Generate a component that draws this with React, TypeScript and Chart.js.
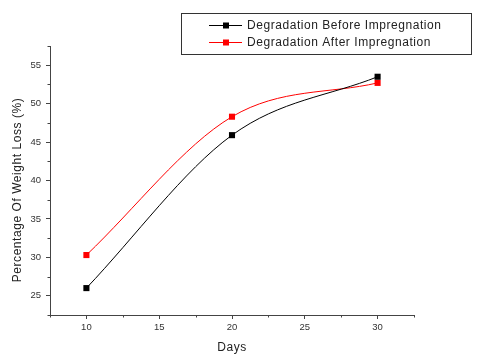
import React, { useEffect, useRef } from 'react';
import { Chart, registerables } from 'chart.js';

Chart.register(...registerables);

const days = [10, 20, 30];
const beforeImpregnation = [26.0, 45.9, 53.5];
const afterImpregnation = [30.3, 48.3, 52.7];
const seriesLabels = ['Degradation Before Impregnation', 'Degradation After Impregnation'];
const seriesColors = ['#000000', '#ff0000'];
const xMajorTicks = [10, 15, 20, 25, 30];
const xMinorTicks = [7.5, 12.5, 17.5, 22.5, 27.5, 32.5];
const yMajorTicks = [25, 30, 35, 40, 45, 50, 55];
const yMinorTicks = [22.5, 27.5, 32.5, 37.5, 42.5, 47.5, 52.5, 57.5];
const xTitle = 'Days';
const yTitle = 'Percentage Of Weight Loss (%)';

const FONT = '"Liberation Sans", Arial, sans-serif';
const AXIS = '#444444';
const TEXT = '#222222';

const overlayPlugin = {
  id: 'overlay',
  afterDraw(chart: any) {
    const ctx = chart.ctx as CanvasRenderingContext2D;
    const xs = chart.scales.x;
    const ys = chart.scales.y;
    ctx.save();
    // minor ticks
    ctx.strokeStyle = AXIS;
    ctx.lineWidth = 1;
    ctx.beginPath();
    xMinorTicks.forEach((v) => {
      const px = Math.round(xs.getPixelForValue(v)) + 0.5;
      ctx.moveTo(px, xs.top);
      ctx.lineTo(px, xs.top + 2.5);
    });
    yMinorTicks.forEach((v) => {
      const py = Math.round(ys.getPixelForValue(v)) + 0.5;
      ctx.moveTo(ys.right, py);
      ctx.lineTo(ys.right - 2.5, py);
    });
    ctx.stroke();

    // axis titles
    ctx.fillStyle = TEXT;
    ctx.font = '12px ' + FONT;
    (ctx as any).letterSpacing = '0.55px';
    ctx.textAlign = 'center';
    ctx.textBaseline = 'middle';
    const ca = chart.chartArea;
    ctx.fillText(xTitle, (ca.left + ca.right) / 2, 348);
    ctx.save();
    ctx.translate(17.5, (ca.top + ca.bottom) / 2 + 9.5);
    ctx.rotate(-Math.PI / 2);
    ctx.fillText(yTitle, 0, 0);
    ctx.restore();

    // legend box
    const bx = 181.5, by = 13.5, bw = 290, bh = 41;
    ctx.fillStyle = '#ffffff';
    ctx.fillRect(bx, by, bw, bh);
    ctx.strokeStyle = '#333333';
    ctx.lineWidth = 1;
    ctx.strokeRect(bx, by, bw, bh);
    const rows = [25, 42.3];
    seriesLabels.forEach((label, i) => {
      const y = rows[i];
      ctx.strokeStyle = seriesColors[i];
      ctx.beginPath();
      ctx.moveTo(209, Math.round(y) + 0.5);
      ctx.lineTo(242, Math.round(y) + 0.5);
      ctx.stroke();
      ctx.fillStyle = seriesColors[i];
      ctx.fillRect(223, Math.round(y) - 2.5, 6, 6);
      ctx.fillStyle = TEXT;
      ctx.textAlign = 'left';
      ctx.textBaseline = 'middle';
      ctx.fillText(label, 247, y + 0.5);
    });
    ctx.restore();
  },
};

export default function App() {
  const canvasRef = useRef<HTMLCanvasElement | null>(null);

  useEffect(() => {
    document.body.style.margin = '0';
    const canvas = canvasRef.current;
    if (!canvas) return;
    const chart = new Chart(canvas, {
      type: 'line',
      data: {
        datasets: [
          {
            label: seriesLabels[0],
            data: days.map((d, i) => ({ x: d, y: beforeImpregnation[i] })),
            borderColor: seriesColors[0],
            backgroundColor: seriesColors[0],
            borderWidth: 1,
            cubicInterpolationMode: 'monotone',
            pointStyle: 'rect',
            pointRadius: 4.3,
            pointBorderWidth: 0,
          },
          {
            label: seriesLabels[1],
            data: days.map((d, i) => ({ x: d, y: afterImpregnation[i] })),
            borderColor: seriesColors[1],
            backgroundColor: seriesColors[1],
            borderWidth: 1,
            cubicInterpolationMode: 'monotone',
            pointStyle: 'rect',
            pointRadius: 4.3,
            pointBorderWidth: 0,
          },
        ],
      },
      options: {
        responsive: false,
        animation: false,
        devicePixelRatio: 1,
        layout: { padding: { left: 0, right: 66, top: 46, bottom: 0 } },
        plugins: {
          legend: { display: false },
          tooltip: { enabled: false },
        },
        scales: {
          x: {
            type: 'linear',
            min: 7.5,
            max: 32.5,
            afterBuildTicks: (axis: any) => {
              axis.ticks = xMajorTicks.map((v) => ({ value: v }));
            },
            afterFit: (axis: any) => {
              axis.height = 44;
            },
            grid: { drawOnChartArea: false, drawTicks: true, tickLength: 4, color: AXIS },
            border: { display: true, color: AXIS, width: 1 },
            ticks: { font: { family: FONT, size: 9.5 }, color: '#333', padding: 3, maxRotation: 0 },
          },
          y: {
            type: 'linear',
            min: 22.5,
            max: 57.5,
            afterBuildTicks: (axis: any) => {
              axis.ticks = yMajorTicks.map((v) => ({ value: v }));
            },
            afterFit: (axis: any) => {
              axis.width = 50;
            },
            grid: { drawOnChartArea: false, drawTicks: true, tickLength: 4, color: AXIS },
            border: { display: true, color: AXIS, width: 1 },
            ticks: { font: { family: FONT, size: 9.5 }, color: '#333', padding: 5 },
          },
        },
      },
      plugins: [overlayPlugin],
    });
    return () => chart.destroy();
  }, []);

  return (
    <div style={{ width: 480, height: 359 }}>
      <canvas ref={canvasRef} width={480} height={359} style={{ display: 'block' }} />
    </div>
  );
}
